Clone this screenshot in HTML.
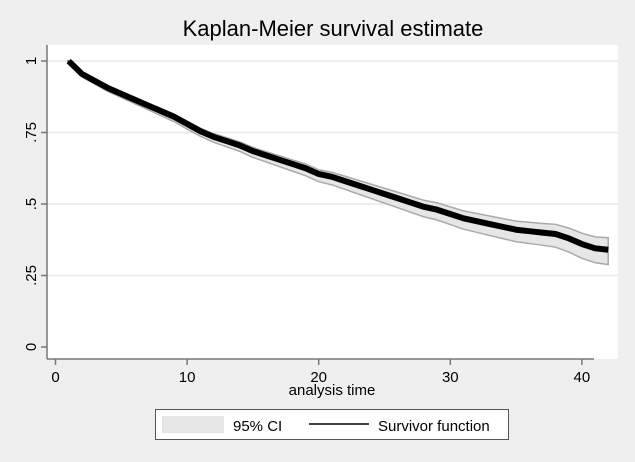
<!DOCTYPE html>
<html><head><meta charset="utf-8"><style>
body{margin:0;background:#efefef;}
svg{display:block;font-family:"Liberation Sans",sans-serif;}
</style></head><body>
<svg id="chart" width="635" height="462">
<rect x="0" y="0" width="635" height="462" fill="#efefef"/>
<rect x="47" y="45" width="571" height="314" fill="#fff"/>
<text x="333" y="36" font-size="22" text-anchor="middle" fill="#000">Kaplan-Meier survival estimate</text>
<g id="grid"></g>
<g id="band"></g>
<g id="line"></g>
<line x1="47" y1="45" x2="47" y2="359" stroke="#777" stroke-width="1.5"/>
<line x1="47" y1="359" x2="594" y2="359" stroke="#777" stroke-width="1.5"/>
<g id="axes"></g>
<text x="332" y="395" font-size="15" text-anchor="middle">analysis time</text>
<g>
<rect x="155.5" y="409.5" width="353" height="30" fill="#fff" stroke="#555"/>
<rect x="162" y="416" width="62" height="17" fill="#e6e6e6"/>
<text x="233" y="431" font-size="15">95% CI</text>
<line x1="309" y1="424" x2="369" y2="424" stroke="#000" stroke-width="1.5"/>
<text x="378" y="431" font-size="15">Survivor function</text>
</g>
</svg>
<script>
const times=[1,2,3,4,5,6,7,8,9,10,11,12,13,14,15,16,17,18,19,20,21,22,23,24,25,26,27,28,29,30,31,32,33,34,35,36,37,38,39,40,41,42];
const surv=[1,0.955,0.93,0.905,0.885,0.865,0.845,0.825,0.805,0.78,0.755,0.735,0.72,0.705,0.685,0.67,0.655,0.64,0.625,0.605,0.595,0.58,0.565,0.55,0.535,0.52,0.505,0.49,0.48,0.465,0.45,0.44,0.43,0.42,0.41,0.405,0.40,0.395,0.38,0.36,0.345,0.34];
const lower=[1,0.945,0.919,0.893,0.872,0.851,0.830,0.809,0.788,0.762,0.737,0.716,0.700,0.684,0.663,0.647,0.631,0.615,0.599,0.578,0.567,0.551,0.535,0.519,0.503,0.487,0.471,0.455,0.444,0.428,0.412,0.401,0.390,0.379,0.368,0.362,0.356,0.349,0.332,0.310,0.295,0.288];
const upper=[1,0.962,0.938,0.913,0.893,0.874,0.854,0.834,0.815,0.790,0.765,0.746,0.732,0.717,0.698,0.683,0.669,0.654,0.640,0.620,0.611,0.597,0.583,0.569,0.555,0.541,0.527,0.513,0.504,0.490,0.476,0.467,0.458,0.449,0.440,0.436,0.432,0.429,0.416,0.398,0.385,0.382];
const xTicks=[0,10,20,30,40];
const yTicks=[0,0.25,0.5,0.75,1];
const yTickLabels=["0",".25",".5",".75","1"];
const NS="http://www.w3.org/2000/svg";
function sx(t){return 55.5+t*13.16;}
function sy(v){return 347-v*286;}
function mk(tag,attrs,parent){const e=document.createElementNS(NS,tag);for(const k in attrs)e.setAttribute(k,attrs[k]);document.getElementById(parent).appendChild(e);return e;}
function pts(vals){return times.map((t,i)=>[sx(t),sy(vals[i])]);}
yTicks.forEach((v,i)=>{
  if(v>0){const g=mk('line',{x1:47,x2:618,y1:sy(v),y2:sy(v),stroke:'#e8e8e8','stroke-width':1.5},'grid');
  
  }
  const t=mk('line',{x1:41,x2:47,y1:sy(v),y2:sy(v),stroke:'#777','stroke-width':1.5},'axes');
  
  
  const l=mk('text',{x:0,y:0,'font-size':15,'text-anchor':'middle',transform:`translate(36,${sy(v)}) rotate(-90)`},'axes');
  l.textContent=yTickLabels[i];
  
  
});
xTicks.forEach(v=>{
  const t=mk('line',{x1:sx(v),x2:sx(v),y1:359,y2:365,stroke:'#777','stroke-width':1.5},'axes');
  
  
  const l=mk('text',{x:sx(v),y:382,'font-size':15,'text-anchor':'middle'},'axes');
  l.textContent=v;
  
  
});
const up=pts(upper),lo=pts(lower);
const poly=up.concat(lo.slice().reverse()).map(p=>p.join(',')).join(' ');
const b=mk('polygon',{points:poly,fill:'#e6e6e6',stroke:'#aaa','stroke-width':1.5},'band');


const s0=mk('line',{x1:sx(0)+12,x2:sx(1),y1:sy(1),y2:sy(1),stroke:'#333','stroke-width':2},'line');


const pl=mk('polyline',{points:pts(surv).map(p=>p.join(',')).join(' '),fill:'none',stroke:'#000','stroke-width':6,'stroke-linejoin':'round'},'line');


</script>
</body></html>
